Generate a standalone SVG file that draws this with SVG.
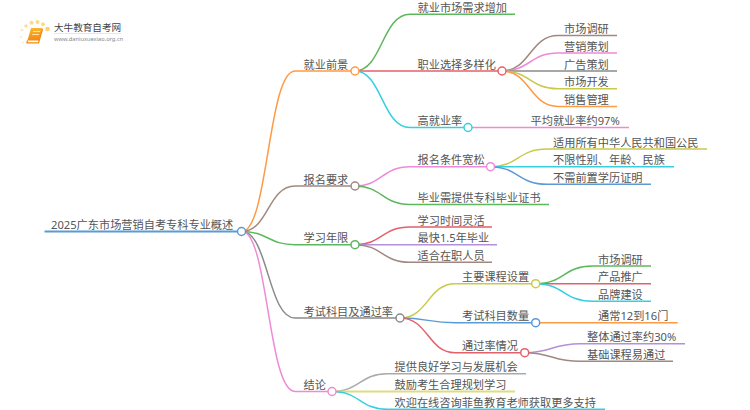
<svg xmlns="http://www.w3.org/2000/svg" width="750" height="410" viewBox="0 0 750 410">
<style>
text{font-family:"Noto Sans","Noto Sans CJK SC",sans-serif;font-size:11.2px;fill:#555}
#connectors path{fill:none;stroke-width:1.5}
.d{fill:#fff;stroke-width:1.5}
.o{stroke:#ff9a45}.b{stroke:#a1887f}.g{stroke:#5cb85c}.r{stroke:#e4606a}.c{stroke:#35cfe0}.p{stroke:#ee8ad6}.s{stroke:#8a8a8a}.y{stroke:#c9c94a}.u{stroke:#5b9bd5}.v{stroke:#b38fdc}.l{stroke:#aaa}.k{stroke:#dcdc80}
</style>
<defs><linearGradient id="bk" x1="0" y1="0" x2="0" y2="1"><stop offset="0" stop-color="#fbb52c"/><stop offset="1" stop-color="#f28a12"/></linearGradient></defs>
<g id="connectors">
<path class="u" style="stroke-width:2" d="M44.500 231.500H242"/>
<path class="o" d="M242 231.500C268 231.500 268 71 295 71H355"/>
<path class="b" d="M242 231.500C268 231.500 268 186 295 186H355"/>
<path class="g" d="M242 231.500C268 231.500 268 244.700 295 244.700H355"/>
<path class="s" d="M242 231.500C268 231.500 268 318 295 318H400"/>
<path class="p" d="M242 231.500C268 231.500 268 391.500 295 391.500H332"/>
<path class="g" d="M355 71C382 71 382 14.300 410 14.300H515"/>
<path class="r" d="M355 71C382 71 382 71 410 71H502"/>
<path class="c" d="M355 71C382 71 382 127.500 410 127.500H468"/>
<path class="p" d="M468 127.500H629"/>
<path class="b" d="M502 71C530 71 530 35.500 558 35.500H617"/>
<path class="p" d="M502 71C530 71 530 53 558 53H617"/>
<path class="s" d="M502 71H617"/>
<path class="y" d="M502 71C530 71 530 88.700 558 88.700H617"/>
<path class="o" d="M502 71C530 71 530 106.500 558 106.500H617"/>
<path class="p" d="M355 186C382 186 382 166.700 410 166.700H490.500"/>
<path class="g" d="M355 186C382 186 382 204.500 410 204.500H549"/>
<path class="y" d="M490.500 166.700C518 166.700 518 149 547 149H707"/>
<path class="c" d="M490.500 166.700H674"/>
<path class="u" d="M490.500 166.700C518 166.700 518 184.300 547 184.300H651"/>
<path class="r" d="M355 244.700C382 244.700 382 227 410 227H492"/>
<path class="v" d="M355 244.700H497"/>
<path class="b" d="M355 244.700C382 244.700 382 262.300 410 262.300H492"/>
<path class="y" d="M400 318C428 318 428 283.700 455 283.700H535.700"/>
<path class="u" d="M400 318C428 318 428 322.700 455 322.700H535.700"/>
<path class="r" d="M400 318C428 318 428 352.700 455 352.700H524.700"/>
<path class="g" d="M535.700 283.700C564 283.700 564 266 592 266H651"/>
<path class="r" d="M535.700 283.700H651"/>
<path class="c" d="M535.700 283.700C564 283.700 564 301.300 592 301.300H651"/>
<path class="o" d="M535.700 322.700H677.700"/>
<path class="v" d="M524.700 352.700C552 352.700 552 343.700 580 343.700H685"/>
<path class="b" d="M524.700 352.700C552 352.700 552 361.300 580 361.300H673"/>
<path class="l" d="M332 391.500C360 391.500 360 373.700 387 373.700H526"/>
<path class="k" style="stroke-width:2" d="M332 391.500H515"/>
<path class="c" d="M332 391.500C360 391.500 360 409.300 387 409.300H605"/>
</g>
<g id="logo">
<circle cx="21" cy="37" r="1.200" fill="#ffecc8"/><circle cx="23" cy="42.500" r="1.200" fill="#fff0d6"/><circle cx="22" cy="30" r="1.300" fill="#ffe6b5"/><circle cx="26" cy="26" r="1.700" fill="#ffdc96"/><circle cx="31.500" cy="22.800" r="2" fill="#ffd98a"/><circle cx="37.500" cy="22" r="2" fill="#ffd98a"/><circle cx="43" cy="24.300" r="2" fill="#ffd98a"/><circle cx="47.500" cy="29" r="2.300" fill="#ffd070"/>
<path d="M31 28H42.500L39 40.500H27.500Z" fill="url(#bk)"/>
<path d="M27.500 40.500L27 42.800H38.500L42.500 29" fill="none" stroke="#f08a10" stroke-width="1.300"/>
<path d="M33 31.500H40M32.200 34.500H39" stroke="#ffe2ad" stroke-width="1"/>
<text x="54" y="31" style="font-size:9.600px;fill:#444">大牛教育自考网</text>
<path d="M54 33.500H121" stroke="#ddd" stroke-width=".7"/>
<text x="54" y="41" style="font-size:5.700px;fill:#888">www.daniuxuexiao.org.cn</text>
</g>
<g id="root"><text x="51" y="228.700">2025广东市场营销自考专科专业概述</text><circle class="d u" cx="241.500" cy="231.500" r="4"/></g>
<g id="n1"><text x="303.500" y="68.700">就业前景</text><circle class="d o" cx="355" cy="71" r="4"/></g>
<g id="n11"><text x="417.500" y="12">就业市场需求增加</text></g>
<g id="n12"><text x="417.500" y="68.700">职业选择多样化</text><circle class="d r" cx="502" cy="71" r="4"/></g>
<g id="n121"><text x="564" y="33.200">市场调研</text></g>
<g id="n122"><text x="564" y="50.700">营销策划</text></g>
<g id="n123"><text x="564" y="68.700">广告策划</text></g>
<g id="n124"><text x="564" y="86.400">市场开发</text></g>
<g id="n125"><text x="564" y="104.200">销售管理</text></g>
<g id="n13"><text x="417.500" y="125.200">高就业率</text><circle class="d c" cx="468" cy="127.500" r="4"/></g>
<g id="n131"><text x="530.500" y="125.200">平均就业率约97%</text></g>
<g id="n2"><text x="303.500" y="183.700">报名要求</text><circle class="d b" cx="355" cy="186" r="4"/></g>
<g id="n21"><text x="417.500" y="164.400">报名条件宽松</text><circle class="d p" cx="490.500" cy="166.700" r="4"/></g>
<g id="n211"><text x="553" y="146.700">适用所有中华人民共和国公民</text></g>
<g id="n212"><text x="553" y="164.400">不限性别、年龄、民族</text></g>
<g id="n213"><text x="553" y="182">不需前置学历证明</text></g>
<g id="n22"><text x="417.500" y="202.200">毕业需提供专科毕业证书</text></g>
<g id="n3"><text x="303.500" y="242.400">学习年限</text><circle class="d g" cx="355" cy="244.700" r="4"/></g>
<g id="n31"><text x="417.500" y="224.700">学习时间灵活</text></g>
<g id="n32"><text x="417.500" y="242.400">最快1.5年毕业</text></g>
<g id="n33"><text x="417.500" y="260">适合在职人员</text></g>
<g id="n4"><text x="303.500" y="315.700">考试科目及通过率</text><circle class="d s" cx="400" cy="318" r="4"/></g>
<g id="n41"><text x="462" y="281.400">主要课程设置</text><circle class="d y" cx="535.700" cy="283.700" r="4"/></g>
<g id="n411"><text x="598" y="263.700">市场调研</text></g>
<g id="n412"><text x="598" y="281.400">产品推广</text></g>
<g id="n413"><text x="598" y="299">品牌建设</text></g>
<g id="n42"><text x="462" y="320.400">考试科目数量</text><circle class="d u" cx="535.700" cy="322.700" r="4"/></g>
<g id="n421"><text x="598" y="320.400">通常12到16门</text></g>
<g id="n43"><text x="462" y="350.400">通过率情况</text><circle class="d r" cx="524.700" cy="352.700" r="4"/></g>
<g id="n431"><text x="587" y="341.400">整体通过率约30%</text></g>
<g id="n432"><text x="587" y="359">基础课程易通过</text></g>
<g id="n5"><text x="303.500" y="389.200">结论</text><circle class="d p" cx="332" cy="391.500" r="4"/></g>
<g id="n51"><text x="394.500" y="371.400">提供良好学习与发展机会</text></g>
<g id="n52"><text x="394.500" y="389.200">鼓励考生合理规划学习</text></g>
<g id="n53"><text x="394.500" y="407">欢迎在线咨询菲鱼教育老师获取更多支持</text></g>
</svg>
